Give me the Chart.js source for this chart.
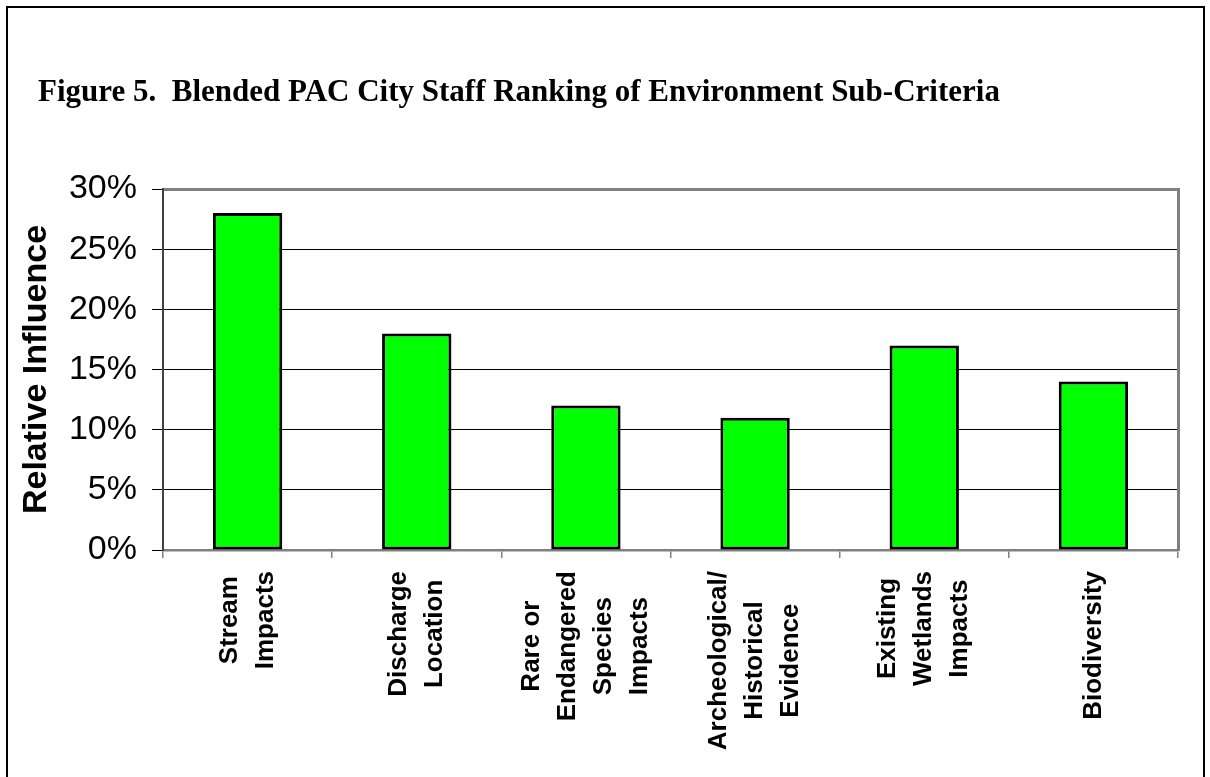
<!DOCTYPE html>
<html>
<head>
<meta charset="utf-8">
<script src="https://cdn.jsdelivr.net/npm/chart.js@4.4.0/dist/chart.umd.min.js"></script>
<style>
  html, body { margin: 0; padding: 0; background: #fff; }
  #frame {
    position: absolute; left: 6px; top: 6px; width: 1195px; height: 800px;
    border: 2px solid #000;
  }
  #wrap { position: absolute; left: 0; top: 0; width: 1210px; height: 777px; overflow: hidden; }
  canvas { position: absolute; left: 0; top: 0; }
</style>
</head>
<body>
<div id="wrap">
  <div id="frame"></div>
  <canvas id="chart" width="1210" height="777"></canvas>
</div>
<script>
// chart data
const chartTitle = "Figure 5.  Blended PAC City Staff Ranking of Environment Sub-Criteria";
const axisTitle = "Relative Influence";
const categories = [
    ["Stream", "Impacts"],
    ["Discharge", "Location"],
    ["Rare or", "Endangered", "Species", "Impacts"],
    ["Archeological/", "Historical", "Evidence"],
    ["Existing", "Wetlands", "Impacts"],
    ["Biodiversity"]
];
const influence = [28, 18, 12, 11, 17, 14];   // percent
const yMin = 0;
const yMax = 30;
const yStep = 5;

// figure title, top-left like the Word caption
const figTitlePlugin = {
    id: "figTitle",
    afterDraw(chart) {
        const ctx = chart.ctx;
        ctx.save();
        ctx.font = "bold 31px 'Liberation Serif', 'Times New Roman', serif";
        ctx.fillStyle = "#000";
        ctx.textAlign = "left";
        ctx.textBaseline = "alphabetic";
        ctx.fillText(chartTitle, 38, 101);
        ctx.restore();
    }
};

// vertical category labels, each line centred like Excel does
const vertLabelsPlugin = {
    id: "vertLabels",
    afterDraw(chart) {
        const ctx = chart.ctx;
        const xs = chart.scales.x;
        const lineH = 36;
        ctx.save();
        ctx.font = "bold 26px 'Liberation Sans', Arial, sans-serif";
        ctx.fillStyle = "#000";
        ctx.textAlign = "center";
        ctx.textBaseline = "middle";
        categories.forEach((lines, i) => {
            const x = xs.getPixelForValue(i);
            const maxW = Math.max(...lines.map(l => ctx.measureText(l).width));
            ctx.save();
            ctx.translate(x, xs.top + 21 + maxW / 2);
            ctx.rotate(-Math.PI / 2);
            lines.forEach((l, j) => {
                ctx.fillText(l, 0, (j - (lines.length - 1) / 2) * lineH);
            });
            ctx.restore();
        });
        ctx.restore();
    }
};

new Chart(document.getElementById("chart"), {
    type: "bar",
    data: {
        labels: categories,
        datasets: [{
            label: axisTitle,
            data: influence,
            backgroundColor: "#00ff00",
            borderColor: "#000",
            borderWidth: 3,
            borderSkipped: false,
            barPercentage: 0.41,
            categoryPercentage: 1
        }]
    },
    options: {
        responsive: false,
        animation: false,
        devicePixelRatio: 1,
        layout: { padding: { top: 189, right: 32, left: 0, bottom: 0 } },
        plugins: {
            legend: { display: false },
            title: { display: false },
            tooltip: { enabled: false }
        },
        scales: {
            x: {
                offset: true,
                grid: {
                    offset: true,
                    drawOnChartArea: false,
                    tickLength: 8,
                    color: "#808080",
                    lineWidth: 1.5
                },
                border: { color: "#808080", width: 2.5 },
                ticks: { display: false },
                afterFit: s => { s.height = 777 - 550; }
            },
            y: {
                min: yMin,
                max: yMax,
                grid: {
                    color: c => c.tick.value === 0 ? "rgba(0,0,0,0)" : (c.tick.value === yMax ? "#808080" : "#000"),
                    lineWidth: c => c.tick.value === yMax ? 3 : 1,
                    tickColor: "#000",
                    tickWidth: 1,
                    tickLength: 11
                },
                border: { color: "#404040", width: 2 },
                ticks: {
                    stepSize: yStep,
                    padding: 15,
                    color: "#000",
                    font: { family: "'Liberation Sans', Arial, sans-serif", size: 34 },
                    callback: v => v + "%"
                },
                title: {
                    display: true,
                    text: axisTitle,
                    color: "#000",
                    font: { family: "'Liberation Sans', Arial, sans-serif", size: 34, weight: "bold" },
                    padding: { top: 16, bottom: 0 }
                },
                afterFit: s => { s.width = 163; }
            },
            y2: {
                position: "right",
                grid: { drawOnChartArea: false, drawTicks: false },
                border: { color: "#808080", width: 3 },
                ticks: { display: false },
                afterFit: s => { s.width = 0; }
            }
        }
    },
    plugins: [figTitlePlugin, vertLabelsPlugin]
});
</script>
</body>
</html>
